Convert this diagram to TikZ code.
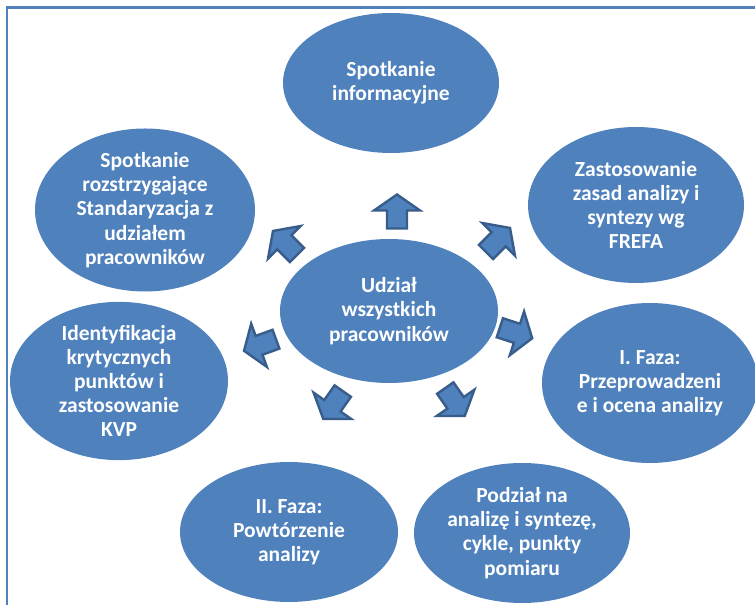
\documentclass[tikz,border=0pt]{standalone}
\usepackage{fontspec}
\setmainfont{Carlito}
\usetikzlibrary{shapes.geometric}
\definecolor{bluefill}{HTML}{4F81BD}
\definecolor{blueline}{HTML}{385D8A}
\tikzset{
  bub/.style={ellipse, fill=bluefill, inner sep=0pt, text=white, align=center,
    font=\fontsize{21.5}{24.2}\selectfont\bfseries},
  blockarrow/.style={fill=bluefill, draw=blueline, line width=2.4pt, line join=miter}
}
\newcommand{\barrow}[3]{%
  \draw[blockarrow, shift={(#1,#2)}, rotate=#3]
    (-17,-10) -- (1,-10) -- (1,-23) -- (17,0) -- (1,23) -- (1,10) -- (-17,10) -- cycle;}
\begin{document}
\begin{tikzpicture}[x=1pt,y=1pt]
\useasboundingbox (0,0) rectangle (755,605);
\clip (0,0) rectangle (755,605);
\fill[white] (0,0) rectangle (755,605);
\draw[bluefill, line width=2.2pt] (7,0) -- (7,597.5) -- (760,597.5);
\node[bub, minimum width=216pt, minimum height=140pt] (top) at (391,522) {Spotkanie\\informacyjne};
\node[bub, minimum width=216pt, minimum height=156pt] (zast) at (636,400) {Zastosowanie\\zasad analizy i\\syntezy wg\\FREFA};
\node[bub, minimum width=216pt, minimum height=160pt] (faza1) at (650,222) {I. Faza:\\Przeprowadzeni\\e i ocena analizy};
\node[bub, minimum width=216pt, minimum height=140pt] (podz) at (522,72) {Podział na\\analizę i syntezę,\\cykle, punkty\\pomiaru};
\node[bub, minimum width=218pt, minimum height=140pt] (faza2) at (289,73) {II. Faza:\\Powtórzenie\\analizy};
\node[bub, minimum width=218pt, minimum height=154pt] (ident) at (119,224) {Identyfikacja\\krytycznych\\punktów i\\zastosowanie\\KVP};
\node[bub, minimum width=220pt, minimum height=156pt] (rozs) at (145,395) {Spotkanie\\rozstrzygające\\Standaryzacja z\\udziałem\\pracowników};
\node[bub, minimum width=218pt, minimum height=144pt] (cent) at (389,294) {Udział\\wszystkich\\pracowników};
\barrow{397}{393.5}{90}
\barrow{498}{365}{45}
\barrow{516}{272}{-18}
\barrow{285}{362}{135}
\barrow{260}{260}{200}
\barrow{333}{200}{235}
\barrow{455}{203}{-55}
\end{tikzpicture}
\end{document}
